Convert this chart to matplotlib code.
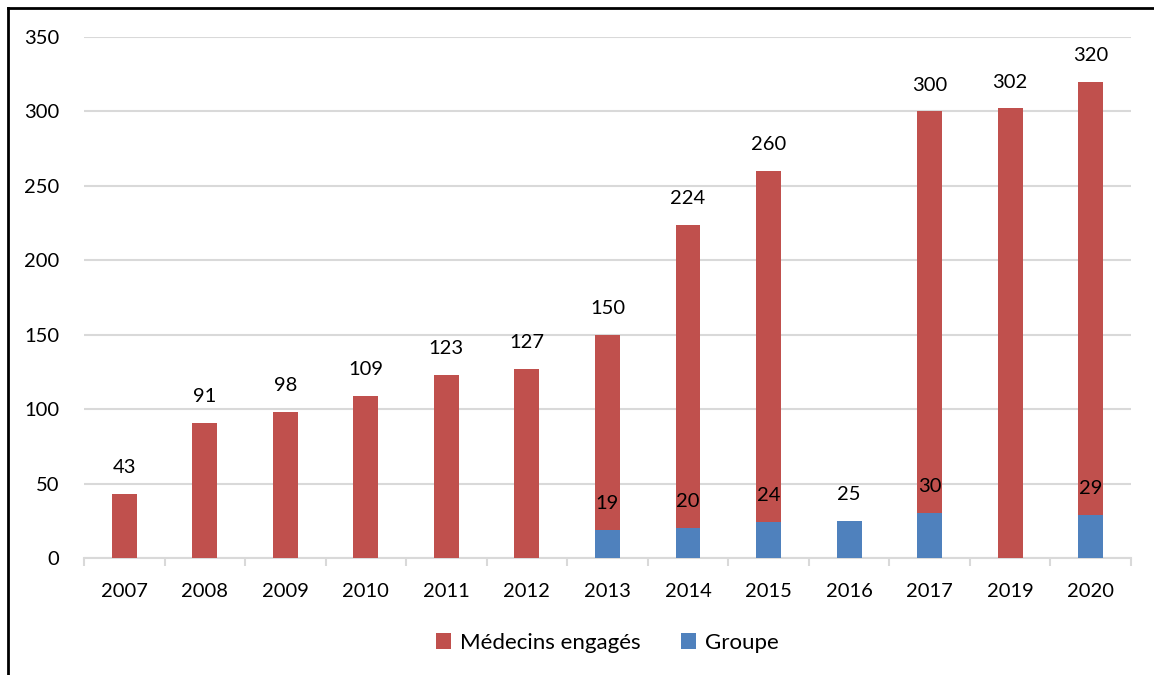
import numpy as np
import matplotlib.pyplot as plt
from matplotlib.lines import Line2D

# Data
years = ["2007", "2008", "2009", "2010", "2011", "2012", "2013",
         "2014", "2015", "2016", "2017", "2019", "2020"]
medecins = [43, 91, 98, 109, 123, 127, 150, 224, 260, np.nan, 300, 302, 320]
groupe = [np.nan, np.nan, np.nan, np.nan, np.nan, np.nan, 19, 20, 24, 25, 30, np.nan, 29]

red = "#C0504D"
blue = "#4F81BD"
grid_col = "#D9D9D9"

plt.rcParams['font.family'] = ['Lato', 'DejaVu Sans']

fig = plt.figure(figsize=(11.54, 6.75), dpi=100)
ax = fig.add_axes([0.0728, 0.1733, 0.9072, 0.7719])

x = np.arange(len(years))
w = 0.31
ax.bar(x, medecins, w, color=red, label="Médecins engagés", zorder=3)
ax.bar(x, groupe, w, color=blue, label="Groupe", zorder=4)

# value labels
for xi, v in zip(x, medecins):
    if not np.isnan(v):
        ax.annotate(f"{int(v)}", (xi, v), xytext=(0, 19), textcoords="offset points",
                    ha="center", va="center", fontsize=14.5, zorder=5)
for xi, v in zip(x, groupe):
    if not np.isnan(v):
        ax.annotate(f"{int(v)}", (xi, v), xytext=(0, 19), textcoords="offset points",
                    ha="center", va="center", fontsize=14.5, zorder=5)

ax.set_xlim(-0.5, len(years) - 0.5)
ax.set_ylim(0, 350)
ax.set_yticks(range(0, 351, 50))
ax.yaxis.grid(True, color=grid_col, linewidth=1.5, zorder=0)
ax.set_axisbelow(True)

for s in ["top", "right", "left"]:
    ax.spines[s].set_visible(False)
ax.spines["bottom"].set_color(grid_col)
ax.spines["bottom"].set_linewidth(1.5)
ax.spines["bottom"].set_zorder(2)

ax.set_xticks(x)
ax.set_xticklabels(years)
ax.set_xticks(np.arange(-0.5, len(years), 1), minor=True)
ax.tick_params(axis="x", which="major", length=0, pad=18, labelsize=14.5)
ax.tick_params(axis="x", which="minor", length=6, width=1.5, color=grid_col, direction="out")
ax.tick_params(axis="y", length=0, pad=18, labelsize=14.5)

ax.legend(loc="upper center", bbox_to_anchor=(0.5, -0.105), ncol=2, frameon=False,
          fontsize=16, handlelength=0.7, handleheight=0.7, handletextpad=0.4,
          columnspacing=1.8)

# outer frame (left and top)
fig.add_artist(Line2D([0.0069, 0.0069], [0.0, 0.988], transform=fig.transFigure,
                      color="black", linewidth=2))
fig.add_artist(Line2D([0.0069, 1.0], [0.988, 0.988], transform=fig.transFigure,
                      color="black", linewidth=2))

fig.savefig("out.png", dpi=100)
